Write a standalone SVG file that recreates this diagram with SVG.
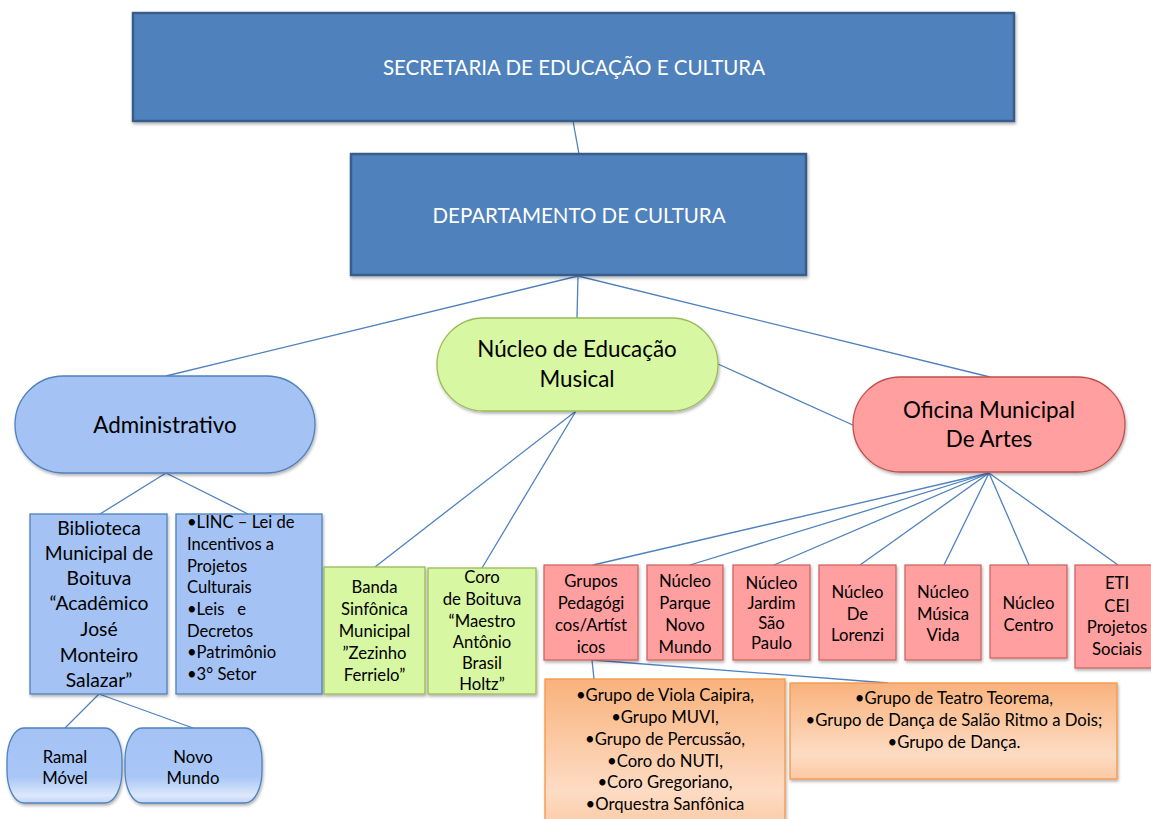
<svg xmlns="http://www.w3.org/2000/svg" width="1151" height="819" viewBox="0 0 1151 819">
<style>
text{font-family:Lato,"Open Sans","Liberation Sans",sans-serif;fill:#000}
.big{font-size:22.4px;text-anchor:middle}
.cap{font-size:20.5px;text-anchor:middle;fill:#fff}
.mid{font-size:19.3px;text-anchor:middle}
.sm{font-size:16.7px;text-anchor:middle}
.sml{font-size:16.6px}
.dk{fill:#4F81BD;stroke:#385D8A;stroke-width:2.5}
.lb{fill:#A4C2F4;stroke:#4F81BD;stroke-width:1.3}
.gr{fill:#D8F7A3;stroke:#9BBB59;stroke-width:1.3}
.rd{fill:#FF9F9F;stroke:#C0504D;stroke-width:1.3}
.rdb{fill:#FF9F9F;stroke:#CF5F5C;stroke-width:1.2}
.or{fill:url(#og);stroke:#F79646;stroke-width:1.3}
.lg{fill:url(#bg);stroke:#4F81BD;stroke-width:1.3}
#connectors line{stroke:#4F81BD;stroke-width:1.3}
</style>
<defs>
<filter id="sh" x="-5%" y="-5%" width="115%" height="120%">
<feDropShadow dx="1" dy="2" stdDeviation="1.5" flood-color="#000" flood-opacity="0.3"/>
</filter>
<linearGradient id="og" x1="0" y1="0" x2="0" y2="1">
<stop offset="0" stop-color="#F9B27C"/>
<stop offset="0.75" stop-color="#FDDCC4"/>
<stop offset="1" stop-color="#FBC9A2"/>
</linearGradient>
<linearGradient id="bg" x1="0" y1="0" x2="0" y2="1">
<stop offset="0" stop-color="#A4C2F4"/>
<stop offset="0.65" stop-color="#A8C6F6"/>
<stop offset="0.9" stop-color="#DCE8FB"/>
<stop offset="1" stop-color="#C3D6F8"/>
</linearGradient>
</defs>
<rect width="1151" height="819" fill="#fff"/>
<g id="connectors">
<line x1="573" y1="121" x2="579" y2="154"/>
<line x1="578" y1="276" x2="166" y2="376"/>
<line x1="578" y1="276" x2="577" y2="318"/>
<line x1="578" y1="276" x2="990" y2="377"/>
<line x1="718" y1="364" x2="855" y2="426"/>
<line x1="166" y1="473" x2="100" y2="514"/>
<line x1="166" y1="473" x2="248" y2="514"/>
<line x1="99" y1="694" x2="65" y2="728"/>
<line x1="99" y1="694" x2="193" y2="728"/>
<line x1="576" y1="411" x2="375" y2="567"/>
<line x1="576" y1="411" x2="482" y2="568"/>
<line x1="989" y1="473" x2="593" y2="565"/>
<line x1="989" y1="473" x2="690" y2="565"/>
<line x1="989" y1="473" x2="774" y2="565"/>
<line x1="989" y1="473" x2="860" y2="565"/>
<line x1="989" y1="473" x2="944" y2="565"/>
<line x1="989" y1="473" x2="1029" y2="565"/>
<line x1="989" y1="473" x2="1118" y2="565"/>
<line x1="592" y1="660" x2="594" y2="679"/>
<line x1="592" y1="660" x2="888" y2="683"/>
</g>
<g id="secretaria">
<rect class="dk" x="133" y="13" width="881" height="108" filter="url(#sh)"/>
<text class="cap" x="574" y="75">SECRETARIA DE EDUCAÇÃO E CULTURA</text>
</g>
<g id="departamento">
<rect class="dk" x="351" y="154" width="455" height="121" filter="url(#sh)"/>
<text class="cap" x="579" y="223">DEPARTAMENTO DE CULTURA</text>
</g>
<g id="administrativo">
<rect class="lb" x="15" y="376" width="300" height="97" rx="48.5" filter="url(#sh)"/>
<text class="big" x="165" y="433">Administrativo</text>
</g>
<g id="nucleo-educacao-musical">
<rect class="gr" x="437" y="318" width="281" height="93" rx="46.5" filter="url(#sh)"/>
<text class="big" x="577" y="357">Núcleo de Educação</text>
<text class="big" x="577" y="387">Musical</text>
</g>
<g id="oficina">
<rect class="rd" x="853" y="377" width="272" height="95" rx="47.5" filter="url(#sh)"/>
<text class="big" x="989" y="418">Oficina Municipal</text>
<text class="big" x="989" y="447">De Artes</text>
</g>
<g id="biblioteca">
<rect class="lb" x="30" y="514" width="137" height="180" filter="url(#sh)"/>
<text class="mid" x="99" y="535">Biblioteca</text>
<text class="mid" x="99" y="560">Municipal de</text>
<text class="mid" x="99" y="585">Boituva</text>
<text class="mid" x="99" y="610">“Acadêmico</text>
<text class="mid" x="99" y="636">José</text>
<text class="mid" x="99" y="662">Monteiro</text>
<text class="mid" x="99" y="687">Salazar”</text>
</g>
<g id="linc">
<rect class="lb" x="176" y="514" width="146" height="180" filter="url(#sh)"/>
<text class="sml" x="187" y="528">•LINC – Lei de</text>
<text class="sml" x="187" y="550">Incentivos a</text>
<text class="sml" x="187" y="572">Projetos</text>
<text class="sml" x="187" y="593">Culturais</text>
<text class="sml" x="187" y="615" xml:space="preserve">•Leis   e</text>
<text class="sml" x="187" y="637">Decretos</text>
<text class="sml" x="187" y="658">•Patrimônio</text>
<text class="sml" x="187" y="680">•3° Setor</text>
</g>
<g id="ramal-movel">
<rect class="lg" x="7" y="728" width="115" height="75" rx="17" ry="32" filter="url(#sh)"/>
<text class="sm" x="65" y="763">Ramal</text>
<text class="sm" x="65" y="784">Móvel</text>
</g>
<g id="novo-mundo">
<rect class="lg" x="125" y="728" width="137" height="75" rx="17" ry="32" filter="url(#sh)"/>
<text class="sm" x="193" y="763">Novo</text>
<text class="sm" x="193" y="784">Mundo</text>
</g>
<g id="banda">
<rect class="gr" x="324" y="567" width="101" height="127" filter="url(#sh)"/>
<text class="sm" x="374.5" y="593">Banda</text>
<text class="sm" x="374.5" y="615">Sinfônica</text>
<text class="sm" x="374.5" y="637">Municipal</text>
<text class="sm" x="374.5" y="659">”Zezinho</text>
<text class="sm" x="374.5" y="681">Ferrielo”</text>
</g>
<g id="coro">
<rect class="gr" x="428" y="568" width="108" height="126" filter="url(#sh)"/>
<text class="sm" x="482" y="583">Coro</text>
<text class="sm" x="482" y="605">de Boituva</text>
<text class="sm" x="482" y="627">“Maestro</text>
<text class="sm" x="482" y="648">Antônio</text>
<text class="sm" x="482" y="669">Brasil</text>
<text class="sm" x="482" y="690">Holtz”</text>
</g>
<g id="grupos">
<rect class="rdb" x="544" y="565" width="94" height="95" filter="url(#sh)"/>
<text class="sm" x="591" y="587">Grupos</text>
<text class="sm" x="591" y="609">Pedagógi</text>
<text class="sm" x="591" y="631">cos/Artíst</text>
<text class="sm" x="591" y="653">icos</text>
</g>
<g id="nucleo-parque">
<rect class="rdb" x="647" y="565" width="76" height="95" filter="url(#sh)"/>
<text class="sm" x="685" y="587">Núcleo</text>
<text class="sm" x="685" y="609">Parque</text>
<text class="sm" x="685" y="631">Novo</text>
<text class="sm" x="685" y="653">Mundo</text>
</g>
<g id="nucleo-jardim">
<rect class="rdb" x="733" y="565" width="77" height="95" filter="url(#sh)"/>
<text class="sm" x="771.5" y="589">Núcleo</text>
<text class="sm" x="771.5" y="609">Jardim</text>
<text class="sm" x="771.5" y="629">São</text>
<text class="sm" x="771.5" y="649">Paulo</text>
</g>
<g id="nucleo-lorenzi">
<rect class="rdb" x="819" y="565" width="77" height="95" filter="url(#sh)"/>
<text class="sm" x="857.5" y="598">Núcleo</text>
<text class="sm" x="857.5" y="620">De</text>
<text class="sm" x="857.5" y="641">Lorenzi</text>
</g>
<g id="nucleo-musica-vida">
<rect class="rdb" x="905" y="565" width="76" height="95" filter="url(#sh)"/>
<text class="sm" x="943" y="598">Núcleo</text>
<text class="sm" x="943" y="620">Música</text>
<text class="sm" x="943" y="641">Vida</text>
</g>
<g id="nucleo-centro">
<rect class="rdb" x="990" y="565" width="77" height="93" filter="url(#sh)"/>
<text class="sm" x="1028.5" y="609">Núcleo</text>
<text class="sm" x="1028.5" y="631">Centro</text>
</g>
<g id="eti">
<rect class="rdb" x="1075" y="565" width="85" height="103" filter="url(#sh)"/>
<text class="sm" x="1117" y="589">ETI</text>
<text class="sm" x="1117" y="612">CEI</text>
<text class="sm" x="1117" y="633">Projetos</text>
<text class="sm" x="1117" y="655">Sociais</text>
</g>
<g id="grupos-musica">
<rect class="or" x="545" y="679" width="240" height="150" filter="url(#sh)"/>
<text class="sm" x="665" y="701">•Grupo de Viola Caipira,</text>
<text class="sm" x="665" y="723">•Grupo MUVI,</text>
<text class="sm" x="665" y="745">•Grupo de Percussão,</text>
<text class="sm" x="665" y="767">•Coro do NUTI,</text>
<text class="sm" x="665" y="788">•Coro Gregoriano,</text>
<text class="sm" x="665" y="810">•Orquestra Sanfônica</text>
</g>
<g id="grupos-teatro-danca">
<rect class="or" x="790" y="683" width="327" height="96" filter="url(#sh)"/>
<text class="sm" x="954" y="704">•Grupo de Teatro Teorema,</text>
<text class="sm" x="954" y="726">•Grupo de Dança de Salão Ritmo a Dois;</text>
<text class="sm" x="954" y="748">•Grupo de Dança.</text>
</g>
</svg>
